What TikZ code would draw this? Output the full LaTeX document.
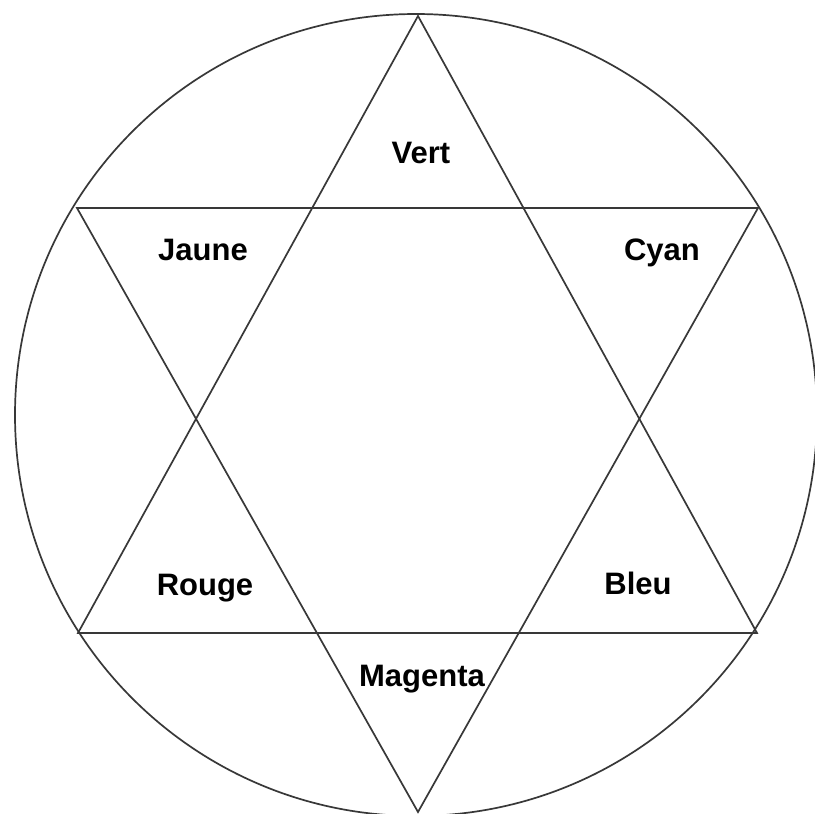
\documentclass[tikz,border=0pt]{standalone}
\usepackage{fontspec}
\setmainfont{Liberation Sans}
\begin{document}
\begin{tikzpicture}[x=1pt,y=-1pt,
  edge/.style={draw=black!78,line width=1.7pt,line join=miter},
  lbl/.style={anchor=base,inner sep=0pt,font=\fontsize{31}{31}\selectfont\bfseries}]
\useasboundingbox (0,0) rectangle (815,814);
\fill[white] (0,0) rectangle (815,814);
\coordinate (C) at (416,415);
\draw[edge] (C) circle[radius=401];
\coordinate (T) at (418,16);
\coordinate (B) at (418,812);
\coordinate (UL) at (77,208);
\coordinate (UR) at (758,208);
\coordinate (LL) at (78,633);
\coordinate (LR) at (757,633);
\draw[edge] (T) -- (LL) -- (LR) -- cycle;
\draw[edge] (B) -- (UL) -- (UR) -- cycle;
\node[lbl] (vert) at (421,163) {Vert};
\node[lbl] (jaune) at (203,260) {Jaune};
\node[lbl] (cyan) at (662,260) {Cyan};
\node[lbl] (rouge) at (205,595) {Rouge};
\node[lbl] (bleu) at (638,594) {Bleu};
\node[lbl] (magenta) at (422,686) {Magenta};
\end{tikzpicture}
\end{document}
